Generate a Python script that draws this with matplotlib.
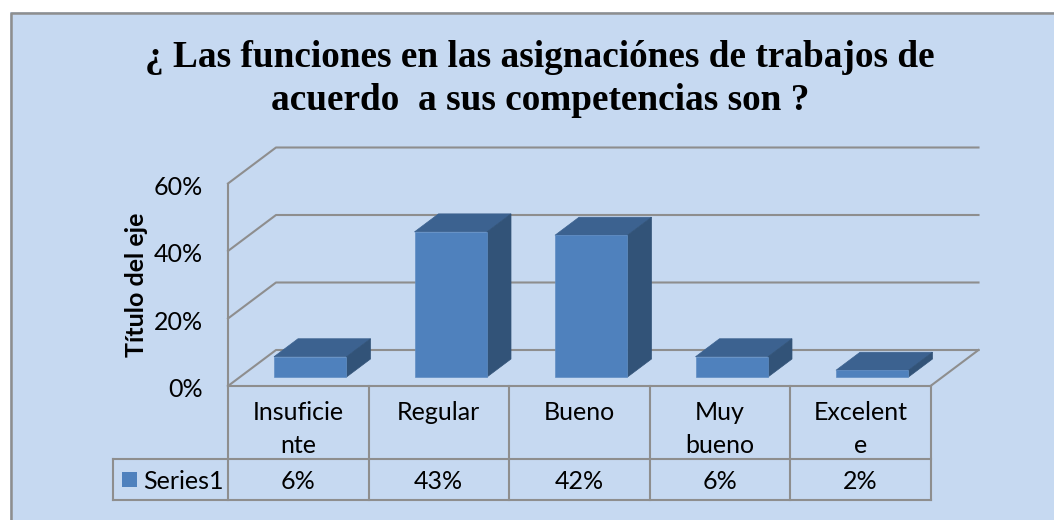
import matplotlib
matplotlib.use("Agg")
import matplotlib.pyplot as plt
from matplotlib.patches import Polygon, Rectangle

categories = ["Insuficie\nnte", "Regular", "Bueno", "Muy\nbueno", "Excelent\ne"]
values = [6, 43, 42, 6, 2]
value_labels = ["6%", "43%", "42%", "6%", "2%"]
y_ticks = [0, 20, 40, 60]
series_name = "Series1"
title = "¿ Las funciones en las asignaciónes de trabajos de\nacuerdo  a sus competencias son ?"
y_title = "Título del eje"

W, H = 1054, 520
BG = "#C6D9F1"
GRID = "#8E8E8E"
FRONT = "#4F81BD"
TOP = "#3C6290"
SIDE = "#325378"
FONT = "Lato"
FS = 18

# one percent is 3.375 px, one category 140.5 px
PX_X = 140.5
PX_Y = 3.375
DEPTH_X = 48 / PX_X
DEPTH_Y = 36 / PX_Y
ROW1 = -73 / PX_Y
ROW2 = -114.5 / PX_Y
LEFT_COL = -115 / PX_X
TEXT_DROP = 3.5 / PX_Y

fig = plt.figure(figsize=(W / 100, H / 100), dpi=100, facecolor="white")
ax = fig.add_axes([228 / W, 1 - 386 / H, 702.5 / W, 202.5 / H])
ax.set_xlim(0, 5)
ax.set_ylim(0, 60)
ax.axis("off")

# chart area runs off the right and bottom edges, white strip left and top
fig.add_artist(Rectangle((10 / W, 0), 1 - 10 / W, 1 - 12 / H, transform=fig.transFigure,
                         fc=BG, ec="none", zorder=-5))
fig.add_artist(plt.Line2D([10.5 / W, 10.5 / W, 1 + 1 / W], [-0.01, 1 - 12.5 / H, 1 - 12.5 / H],
                          transform=fig.transFigure, color=GRID, lw=1.8, zorder=-4))

fig.text(540 / W, 1 - 79 / H, title, family="Liberation Serif", weight="bold", fontsize=26.8,
         ha="center", va="center", multialignment="center", linespacing=1.33, color="black")


def line(xs, ys, lw=1.5):
    ax.plot(xs, ys, color=GRID, lw=lw, clip_on=False, solid_capstyle="projecting", zorder=1)


# gridlines, back wall and floor
for t in y_ticks:
    line([0, DEPTH_X, 5 + DEPTH_X], [t, t + DEPTH_Y, t + DEPTH_Y])
    ax.text(-25 / PX_X, t - TEXT_DROP, f"{t}%", family=FONT, fontsize=FS, ha="right", va="center", color="black")
line([0, 0], [0, 60])
line([5, 5 + DEPTH_X], [0, DEPTH_Y])

# bars
bar_w = 0.516
off_x = DEPTH_X / 4
off_y = DEPTH_Y / 4
bd_x = DEPTH_X / 2
bd_y = DEPTH_Y / 2
for i, v in enumerate(values):
    x0 = i + 0.5 - bar_w / 2 + off_x
    x1 = x0 + bar_w
    y0 = off_y
    y1 = off_y + v
    ax.add_patch(Polygon([(x0, y1), (x1, y1), (x1 + bd_x, y1 + bd_y), (x0 + bd_x, y1 + bd_y)],
                         fc=TOP, ec=TOP, lw=0.5, clip_on=False, zorder=2))
    ax.add_patch(Polygon([(x1, y0), (x1 + bd_x, y0 + bd_y), (x1 + bd_x, y1 + bd_y), (x1, y1)],
                         fc=SIDE, ec=SIDE, lw=0.5, clip_on=False, zorder=2))
    ax.add_patch(Rectangle((x0, y0), bar_w, v, fc=FRONT, ec="#5F8DC4", lw=0.5, clip_on=False, zorder=3))

# data table
line([0, 5], [0, 0])
line([LEFT_COL, 5], [ROW1, ROW1])
line([LEFT_COL, 5], [ROW2, ROW2])
line([LEFT_COL, LEFT_COL], [ROW1, ROW2])
for i in range(6):
    line([i, i], [0, ROW2])
for i, cat in enumerate(categories):
    ax.text(i + 0.5, -15.5 / PX_Y, cat, family=FONT, fontsize=FS, ha="center", va="top",
            multialignment="center", linespacing=1.48, color="black")
    ax.text(i + 0.5, (ROW1 + ROW2) / 2 - 2 / PX_Y, value_labels[i], family=FONT, fontsize=FS, ha="center",
            va="center", color="black")

# legend key
ax.add_patch(Rectangle((-106 / PX_X, (ROW1 + ROW2) / 2 - 7.5 / PX_Y), 15 / PX_X, 15 / PX_Y,
                       fc=FRONT, ec="none", clip_on=False))
ax.text(-85 / PX_X, (ROW1 + ROW2) / 2 - 2 / PX_Y, series_name, family=FONT, fontsize=FS, ha="left",
        va="center", color="black")

fig.text(137 / W, 1 - 285 / H, y_title, family=FONT, weight="bold", fontsize=18, rotation=90,
         ha="center", va="center", color="black")

fig.savefig("out.png", dpi=100)
